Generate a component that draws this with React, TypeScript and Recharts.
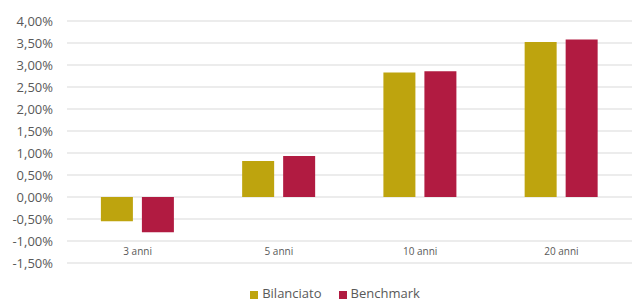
import { BarChart, Bar, XAxis, YAxis, CartesianGrid, Legend } from "recharts";

// values (percent)
const periods = ["3 anni", "5 anni", "10 anni", "20 anni"];
const bilanciato = [-0.55, 0.82, 2.83, 3.52];
const benchmark = [-0.8, 0.93, 2.86, 3.58];
const yTicks = [-1.5, -1, -0.5, 0, 0.5, 1, 1.5, 2, 2.5, 3, 3.5, 4];
const seriesOrder = ["Bilanciato", "Benchmark"];

const data = periods.map((p, i) => ({ name: p, Bilanciato: bilanciato[i], Benchmark: benchmark[i] }));

const fmt = (v: number) => v.toFixed(2).replace(".", ",") + "%";
const font = "'Open Sans', 'Liberation Sans', sans-serif";

// Excel puts the category labels just above the bottom gridline
const CatTick = (props: any) => {
    const { x, payload } = props;
    return (
        <text x={x} y={255} textAnchor="middle" fill="#595959" fontSize={10} fontFamily={font}>
            {payload.value}
        </text>
    );
};

export default function App() {
    return (
        <div style={{ position: "absolute", left: 0, top: 0, background: "#fff" }}>
            <BarChart
                width={640}
                height={302}
                data={data}
                margin={{ top: 21, right: 8, left: 0, bottom: 0 }}
                barCategoryGap="24%"
                barGap={9}
            >
                <CartesianGrid vertical={false} stroke="#d9d9d9" strokeWidth={1} />
                <XAxis dataKey="name" axisLine={false} tickLine={false} height={9} tick={<CatTick />} interval={0} />
                <YAxis
                    width={67}
                    domain={[-1.5, 4]}
                    ticks={yTicks}
                    tickFormatter={fmt}
                    axisLine={false}
                    tickLine={false}
                    tickMargin={8}
                    interval={0}
                    tick={{ fill: "#595959", fontSize: 13, fontFamily: font }}
                />
                <Legend
                    verticalAlign="bottom"
                    height={30}
                    iconType="square"
                    iconSize={8}
                    itemSorter={(e: any) => seriesOrder.indexOf(e.value)}
                    wrapperStyle={{ fontFamily: font, fontSize: 13, color: "#595959", left: 24, top: 284 }}
                    formatter={(v: string) => (
                        <span style={{ color: "#595959", paddingRight: v === "Bilanciato" ? 7 : 0 }}>{v}</span>
                    )}
                />
                <Bar dataKey="Bilanciato" fill="#bea40e" isAnimationActive={false} />
                <Bar dataKey="Benchmark" fill="#b11b41" isAnimationActive={false} />
            </BarChart>
        </div>
    );
}
